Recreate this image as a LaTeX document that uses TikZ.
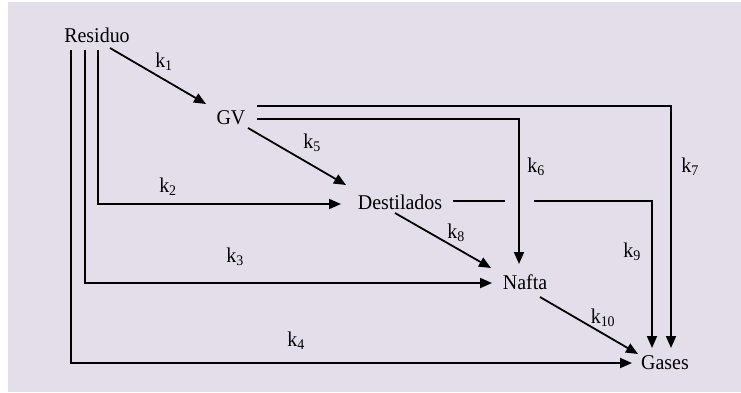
\documentclass[tikz,border=0pt]{standalone}
\usepackage{fontspec}
\setmainfont{Liberation Serif}[FakeStretch=0.95]
\usetikzlibrary{arrows.meta}
\definecolor{bgc}{HTML}{E3DEEA}
\tikzset{
  lbl/.style={inner sep=0pt, font=\fontsize{21}{24}\selectfont},
  kl/.style={inner sep=0pt, font=\fontsize{21}{24}\selectfont},
  conn/.style={line width=1.8pt},
  arr/.style={conn, -{Triangle[length=12pt,width=10pt]}}
}
\begin{document}
\begin{tikzpicture}[x=1pt,y=-1pt]
\useasboundingbox (0,0) rectangle (741,392);
\fill[bgc] (8,2) rectangle (741,392);
% nodes
\node[lbl, anchor=base] (res) at (97,42) {Residuo};
\node[lbl, anchor=base] (gv) at (231,124) {GV};
\node[lbl, anchor=base] (des) at (400,209) {Destilados};
\node[lbl, anchor=base] (naf) at (525,289) {Nafta};
\node[lbl, anchor=base] (gas) at (665,369) {Gases};
% anchor coordinates
\coordinate (r1) at (110,48);
\coordinate (r2) at (98,50);
\coordinate (r3) at (85,50);
\coordinate (r4) at (71,50);
\coordinate (gvin) at (206,104);
\coordinate (gvo) at (248,128);
\coordinate (gvu) at (257,106);
\coordinate (gvl) at (257,119);
\coordinate (desin) at (346,185);
\coordinate (desw) at (341,204);
\coordinate (deso) at (395,213);
\coordinate (dese) at (453,201);
\coordinate (gap1) at (505,201);
\coordinate (gap2) at (534,201);
\coordinate (nafin) at (491,268);
\coordinate (nafw) at (492,283);
\coordinate (naftop) at (519,264);
\coordinate (nafo) at (540,297);
\coordinate (gasin) at (638,354);
\coordinate (gasw) at (632,363);
\coordinate (gast1) at (652,348);
\coordinate (gast2) at (671,348);
% connectors
\draw[arr] (r1) -- (gvin);
\draw[arr] (gvo) -- (desin);
\draw[arr] (gvu) -| (gast2);
\draw[arr] (gvl) -| (naftop);
\draw[arr] (r2) |- (desw);
\draw[arr] (r3) |- (nafw);
\draw[arr] (r4) |- (gasw);
\draw[conn] (dese) -- (gap1);
\draw[arr] (gap2) -| (gast1);
\draw[arr] (deso) -- (nafin);
\draw[arr] (nafo) -- (gasin);
% labels
\node[kl] (k1) at (164,62) {k\textsubscript{1}};
\node[kl] (k2) at (168,187) {k\textsubscript{2}};
\node[kl] (k3) at (235,257) {k\textsubscript{3}};
\node[kl] (k4) at (296,341) {k\textsubscript{4}};
\node[kl] (k5) at (312,143) {k\textsubscript{5}};
\node[kl] (k6) at (536,167) {k\textsubscript{6}};
\node[kl] (k7) at (690,167) {k\textsubscript{7}};
\node[kl] (k8) at (456,233) {k\textsubscript{8}};
\node[kl] (k9) at (632,252) {k\textsubscript{9}};
\node[kl] (k10) at (603,318) {k\textsubscript{10}};
\end{tikzpicture}
\end{document}
